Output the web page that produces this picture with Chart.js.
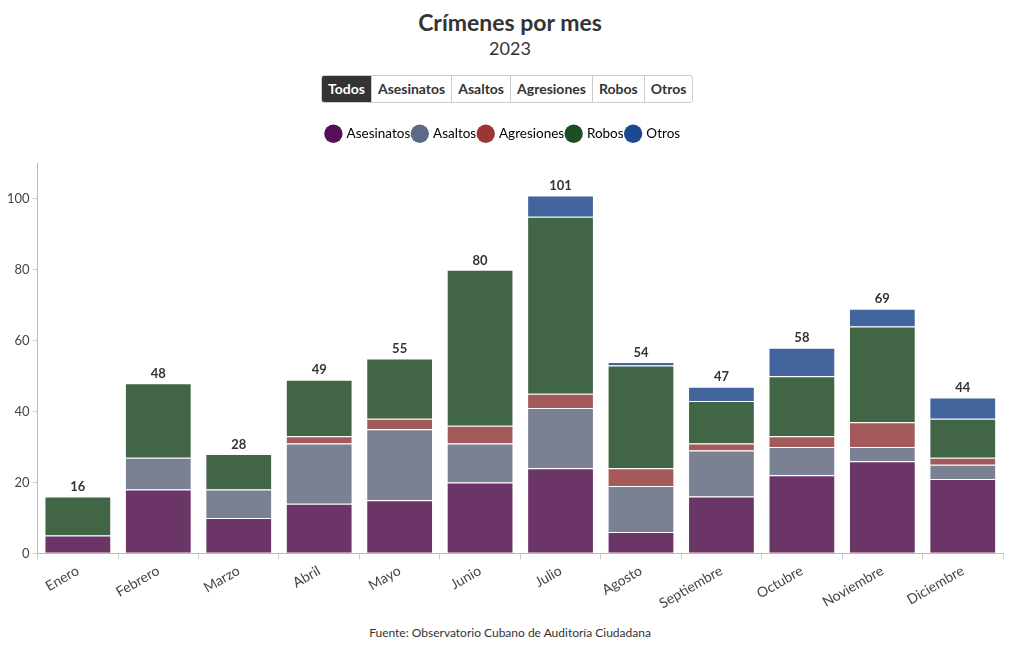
<!DOCTYPE html>
<html>
<head>
<meta charset="utf-8">
<script src="https://cdn.jsdelivr.net/npm/chart.js@4"></script>
<style>
  body { margin: 0; width: 1020px; height: 650px; background: #fff; font-family: Lato, "Noto Sans", sans-serif; color: #333; position: relative; overflow: hidden; }
  #title { position: absolute; top: 8px; width: 100%; text-align: center; font-size: 23px; font-weight: bold; color: #333; }
  #subtitle { position: absolute; top: 37px; width: 100%; text-align: center; font-size: 18px; color: #333; }
  #buttons { position: absolute; top: 75px; left: 321px; display: flex; border: 1px solid #ccc; border-radius: 3px; overflow: hidden; }
  #buttons div { height: 26px; line-height: 26px; padding: 0 6px; font-size: 14px; font-weight: bold; border-left: 1px solid #ccc; color: #333; }
  #buttons div:first-child { border-left: none; }
  #buttons div.active { background: #333; color: #fff; }
  #wrap { position: absolute; top: 115px; left: 0; width: 1020px; height: 500px; }
  #footer { position: absolute; top: 625px; width: 100%; text-align: center; font-size: 12px; color: #333; }
</style>
</head>
<body>
<div id="title">Crímenes por mes</div>
<div id="subtitle">2023</div>
<div id="buttons">
  <div class="active">Todos</div><div>Asesinatos</div><div>Asaltos</div><div>Agresiones</div><div>Robos</div><div>Otros</div>
</div>
<div id="wrap"><canvas id="crimes-chart"></canvas></div>
<div id="footer">Fuente: Observatorio Cubano de Auditoría Ciudadana</div>
<script>
const months = ["Enero", "Febrero", "Marzo", "Abril", "Mayo", "Junio", "Julio", "Agosto", "Septiembre", "Octubre", "Noviembre", "Diciembre"];
const asesinatos = [5, 18, 10, 14, 15, 20, 24, 6, 16, 22, 26, 21];
const asaltos    = [0, 9, 8, 17, 20, 11, 17, 13, 13, 8, 4, 4];
const agresiones = [0, 0, 0, 2, 3, 5, 4, 5, 2, 3, 7, 2];
const robos      = [11, 21, 10, 16, 17, 44, 50, 29, 12, 17, 27, 11];
const otros      = [0, 0, 0, 0, 0, 0, 6, 1, 4, 8, 5, 6];

// legend colours are darker than the bars
const legend_colors = ['#560f57', '#5d6a85', '#9c3535', '#1d4f22', '#1a4a8f'];
const bar_colors = ['#6b3568', '#7a8193', '#a45a5a', '#426546', '#41659c'];

function makeSet(label, values, i) {
    return {
        label: label,
        data: values,
        backgroundColor: bar_colors[i],
        borderColor: '#fff',
        borderWidth: 1,
        legendColor: legend_colors[i]
    };
}

// totals written above each stack
const totalsPlugin = {
    id: 'totals',
    afterDatasetsDraw(chart) {
        let ctx = chart.ctx;
        ctx.save();
        ctx.font = 'bold 13px Lato, "Noto Sans", sans-serif';
        ctx.fillStyle = '#333';
        ctx.textAlign = 'center';
        ctx.textBaseline = 'bottom';
        months.forEach(function(m, i) {
            let total = 0;
            chart.data.datasets.forEach(function(ds) { total += ds.data[i]; });
            let x = chart.scales.x.getPixelForValue(i);
            let y = chart.scales.y.getPixelForValue(total);
            ctx.fillText(total, x, y - 3);
        });
        ctx.restore();
    }
};

// extra room under the legend
const legendGap = {
    id: 'legendGap',
    beforeInit(chart) {
        let fit = chart.legend.fit;
        chart.legend.fit = function() {
            fit.bind(chart.legend)();
            this.height += 13;
        };
    }
};

let config = {
    type: 'bar',
    data: {
        labels: months,
        datasets: [
            makeSet('Asesinatos', asesinatos, 0),
            makeSet('Asaltos', asaltos, 1),
            makeSet('Agresiones', agresiones, 2),
            makeSet('Robos', robos, 3),
            makeSet('Otros', otros, 4)
        ]
    },
    options: {
        responsive: true,
        maintainAspectRatio: false,
        animation: false,
        layout: { padding: { left: 4, right: 17, top: 9, bottom: 0 } },
        datasets: { bar: { categoryPercentage: 1, barPercentage: 0.83 } },
        plugins: {
            legend: {
                position: 'top',
                labels: {
                    usePointStyle: true,
                    pointStyle: 'circle',
                    boxWidth: 13,
                    boxHeight: 13,
                    padding: 3,
                    color: '#333',
                    font: { size: 13.5, family: 'Lato, "Noto Sans", sans-serif' },
                    generateLabels(chart) {
                        return chart.data.datasets.map(function(ds, i) {
                            return {
                                text: ds.label,
                                fillStyle: ds.legendColor,
                                strokeStyle: ds.legendColor,
                                lineWidth: 0,
                                pointStyle: 'circle',
                                datasetIndex: i
                            };
                        });
                    }
                }
            },
            tooltip: { enabled: false }
        },
        scales: {
            x: {
                stacked: true,
                grid: { display: true, drawOnChartArea: false, drawTicks: true, tickLength: 6, color: '#ccc' },
                border: { display: true, color: '#bbb' },
                ticks: {
                    minRotation: 30, maxRotation: 30,
                    color: '#444',
                    font: { size: 14, family: 'Lato, "Noto Sans", sans-serif' }
                }
            },
            y: {
                stacked: true,
                min: 0, max: 110,
                grid: { display: true, drawOnChartArea: false, drawTicks: true, tickLength: 5, color: '#ccc' },
                border: { display: true, color: '#bbb' },
                ticks: {
                    stepSize: 20,
                    color: '#444',
                    padding: 3,
                    font: { size: 13, family: 'Lato, "Noto Sans", sans-serif' },
                    callback: function(v) { return v % 20 === 0 ? v : null; }
                }
            }
        }
    },
    plugins: [totalsPlugin, legendGap]
};

let crimes_chart = new Chart(document.getElementById('crimes-chart'), config);
</script>
</body>
</html>
